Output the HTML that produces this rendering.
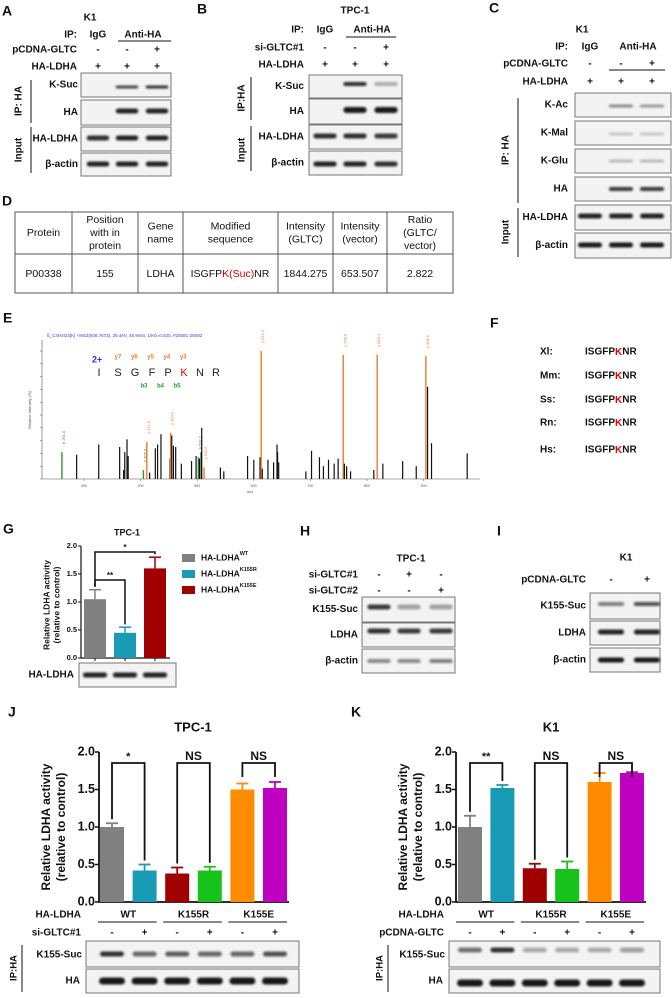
<!DOCTYPE html>
<html><head><meta charset="utf-8">
<style>
html,body{margin:0;padding:0;background:#fff;}
svg{display:block;font-family:"Liberation Sans",Arial,sans-serif;}
</style></head>
<body>
<svg id="fig" width="672" height="998" viewBox="0 0 672 998" xmlns="http://www.w3.org/2000/svg">
<defs><filter id="blur" x="-20%" y="-100%" width="140%" height="300%"><feGaussianBlur stdDeviation="1.1"/></filter></defs>
</svg>
<script>
// ---- chart data ----
const gCategories = ["HA-LDHA WT","HA-LDHA K155R","HA-LDHA K155E"];
const gValues = [1.05, 0.45, 1.6];
const gErrors = [0.17, 0.1, 0.2];
const gColors = ["#808080","#1a9bb5","#a00000"];
const yTicks = [0, 0.5, 1.0, 1.5, 2.0];
const yTickLabels = ["0.0","0.5","1.0","1.5","2.0"];
const jValues = [1.0, 0.42, 0.38, 0.42, 1.5, 1.52];
const jErrors = [0.05, 0.08, 0.08, 0.05, 0.08, 0.08];
const kValues = [1.0, 1.52, 0.45, 0.44, 1.6, 1.72];
const kErrors = [0.15, 0.04, 0.06, 0.1, 0.12, 0.01];
const barColors = ["#808080","#1a9bb5","#a00000","#17c21a","#ff8c00","#c000c0"];
const specMz = [261,287,326,363,370,372,376,378,405,411,416,426,430,436,452,453,455,458,462,472,490,498,502,504,507,508,512,541,547,589,600,611,613,615,625,635,641,642,644,692,702,716,723,732,742,749,758,760,764,771,812,818,828,863,887,904,907,914,977];
const specInt = [21,19,27,25,7,21,31,18,7,29,5,24,27,35,16,36,34,26,25,12,14,18,17,16,21,40,9,9,6,18,15,17,100,8,15,13,27,21,13,6,22,17,10,15,12,16,97,12,10,6,7,97,12,14,10,96,72,28,20];
const specColor = ["g","k","k","k","k","k","k","k","g","o","k","k","k","k","k","o","k","k","k","k","k","k","g","k","k","k","o","k","k","k","k","k","o","k","k","k","k","k","k","k","k","k","k","k","k","k","o","k","k","k","k","o","k","k","k","o","k","k","k"];
const specXTicks = [300,400,500,600,700,800,900];

const svg = document.getElementById('fig');
const NS = 'http://www.w3.org/2000/svg';
function mk(tag, attrs, name, parent){
  const el = document.createElementNS(NS, tag);
  for (const k in attrs) el.setAttribute(k, attrs[k]);
  
  
  (parent || svg).appendChild(el);
  return el;
}
function T(x,y,s,name,o){
  o = o || {};
  const el = mk('text',{x:x,y:y,'font-size':o.fs||10,'font-weight':o.fw||'bold','text-anchor':o.a||'start',fill:o.c||'#111','dominant-baseline':'middle'},name);
  if (o.rot) el.setAttribute('transform','rotate(-90 '+x+' '+y+')');
  el.textContent = s;
  return el;
}
function L(x1,y1,x2,y2,name,w,c){ return mk('line',{x1:x1,y1:y1,x2:x2,y2:y2,stroke:c||'#111','stroke-width':w||1},name); }
function box(x,y,w,h,name){ return mk('rect',{x:x,y:y,width:w,height:h,fill:'#f3f3f3',stroke:'#777','stroke-width':1},name); }
function band(cx,cy,w,h,op,name){ return mk('rect',{x:cx-w/2,y:cy-h/2,width:w,height:h,rx:h/2,fill:'#111',opacity:op,filter:'url(#blur)'},name); }
function blot(x,y,w,h,label,lanes,cy,ops,bh,name,lx){
  box(x,y,w,h,name+'-box');
  T(lx!==undefined?lx:x-3, y+h/2, label, name+'-label', {a:'end'});
  lanes.forEach((lx2,i)=>{ if(ops[i]>0) band(lx2,cy,w/lanes.length*0.75,bh,ops[i],name+'-band'); });
}

// ===== Panel A =====
T(2,12,'A','panel-a-label',{fs:14});
T(90,18,'K1','panel-a-cell',{fs:10,a:'middle'});
T(77,35,'IP:','panel-a-ip',{a:'end'});
T(98,35,'IgG','panel-a-igg',{a:'middle'});
T(143,35,'Anti-HA','panel-a-antiha',{a:'middle'});
L(118,41,171,41,'panel-a-underline');
T(77,50,'pCDNA-GLTC','panel-a-pcdna',{a:'end'});
T(77,67,'HA-LDHA','panel-a-haldha',{a:'end'});
const aL=[98,127,157];
['-','-','+'].forEach((s,i)=>T(aL[i],50,s,'panel-a-pcdna-sign',{a:'middle'}));
['+','+','+'].forEach((s,i)=>T(aL[i],67,s,'panel-a-haldha-sign',{a:'middle'}));
blot(81,73,90,24,'K-Suc',aL,87,[0,.75,.85],3,'panel-a-ksuc');
blot(81,100,90,25,'HA',aL,111,[0,.9,.9],5,'panel-a-ha');
blot(81,127,90,24,'HA-LDHA',aL,138,[.85,.9,.9],5,'panel-a-input-haldha');
blot(81,153,90,23,'β-actin',aL,164,[.9,.9,.9],5,'panel-a-actin');
L(31,80,31,123,'panel-a-ip-bracket');
T(19,101,'IP: HA','panel-a-ip-ha',{rot:1,a:'middle'});
L(31,127,31,173,'panel-a-input-bracket');
T(19,150,'Input','panel-a-input',{rot:1,a:'middle'});

// ===== Panel B =====
T(197,10,'B','panel-b-label',{fs:14});
T(355,11,'TPC-1','panel-b-cell',{a:'middle'});
T(304,30,'IP:','panel-b-ip',{a:'end'});
T(325,30,'IgG','panel-b-igg',{a:'middle'});
T(372,30,'Anti-HA','panel-b-antiha',{a:'middle'});
L(346,37,396,37,'panel-b-underline');
T(304,48,'si-GLTC#1','panel-b-si',{a:'end'});
T(304,65,'HA-LDHA','panel-b-haldha',{a:'end'});
const bL=[325,355,386];
['-','-','+'].forEach((s,i)=>T(bL[i],48,s,'panel-b-si-sign',{a:'middle'}));
['+','+','+'].forEach((s,i)=>T(bL[i],65,s,'panel-b-haldha-sign',{a:'middle'}));
blot(309,75,93,23,'K-Suc',bL,84,[0,.85,.3],4,'panel-b-ksuc',304);
blot(309,99,93,25,'HA',bL,110,[0,.95,.95],6,'panel-b-ha',304);
blot(309,125,93,24,'HA-LDHA',bL,136,[.85,.85,.8],5,'panel-b-input-haldha',304);
blot(309,151,93,24,'β-actin',bL,164,[.9,.9,.85],5,'panel-b-actin',304);
L(251,77,251,120,'panel-b-ip-bracket');
T(242,98,'IP:HA','panel-b-ip-ha',{rot:1,a:'middle'});
L(251,126,251,171,'panel-b-input-bracket');
T(242,150,'Input','panel-b-input',{rot:1,a:'middle'});

// ===== Panel C =====
T(489,9,'C','panel-c-label',{fs:14});
T(582,30,'K1','panel-c-cell',{a:'middle'});
T(568,47,'IP:','panel-c-ip',{a:'end'});
T(590,47,'IgG','panel-c-igg',{a:'middle'});
T(638,47,'Anti-HA','panel-c-antiha',{a:'middle'});
T(568,64,'pCDNA-GLTC','panel-c-pcdna',{a:'end'});
L(609,70,665,70,'panel-c-underline');
T(568,82,'HA-LDHA','panel-c-haldha',{a:'end'});
const cL=[590,621,652];
['-','-','+'].forEach((s,i)=>T(cL[i],64,s,'panel-c-pcdna-sign',{a:'middle'}));
['+','+','+'].forEach((s,i)=>T(cL[i],82,s,'panel-c-haldha-sign',{a:'middle'}));
blot(575,93,96,24,'K-Ac',cL,106,[0,.45,.4],3,'panel-c-kac',568);
blot(575,121,96,24,'K-Mal',cL,134,[0,.2,.2],3,'panel-c-kmal',568);
blot(575,149,96,24,'K-Glu',cL,161,[0,.25,.25],3,'panel-c-kglu',568);
blot(575,177,96,24,'HA',cL,189,[0,.8,.8],4,'panel-c-ha',568);
blot(575,205,96,25,'HA-LDHA',cL,216,[.9,.9,.9],5,'panel-c-input-haldha',568);
blot(575,233,96,25,'β-actin',cL,245,[.95,.95,.95],5,'panel-c-actin',568);
L(518,98,518,203,'panel-c-ip-bracket');
T(506,150,'IP: HA','panel-c-ip-ha',{rot:1,a:'middle'});
L(518,208,518,257,'panel-c-input-bracket');
T(506,232,'Input','panel-c-input',{rot:1,a:'middle'});

// ===== Panel D table =====
T(2,202,'D','panel-d-label',{fs:14});
mk('rect',{x:15,y:212,width:438,height:81,fill:'none',stroke:'#555','stroke-width':1},'table-border');
L(15,254,453,254,'table-header-line',1,'#555');
const cols=[15,72,138,183,278,333,387,453];
cols.slice(1,-1).forEach(x=>L(x,212,x,293,'table-column-line',1,'#555'));
const hdr=[['Protein'],['Position','with in','protein'],['Gene','name'],['Modified','sequence'],['Intensity','(GLTC)'],['Intensity','(vector)'],['Ratio','(GLTC/','vector)']];
hdr.forEach((lines,i)=>{const cx=(cols[i]+cols[i+1])/2;const y0=233-(lines.length-1)*6.5;lines.forEach((s,j)=>T(cx,y0+j*13,s,'table-header-cell',{fw:'normal',fs:10.5,a:'middle'}));});
const vals=['P00338','155','LDHA',null,'1844.275','653.507','2.822'];
vals.forEach((s,i)=>{if(s)T((cols[i]+cols[i+1])/2,274,s,'table-value-cell',{fw:'normal',fs:10.5,a:'middle'});});
{const el=mk('text',{x:230,y:274,'font-size':10.5,'text-anchor':'middle','dominant-baseline':'middle',fill:'#111'},'modified-sequence');
 el.innerHTML='ISGFP<tspan fill="#e00000">K(Suc)</tspan>NR';}

// ===== Panel E spectrum =====
T(3,319,'E','panel-e-label',{fs:14});
const sx0=42, sAxisY=479, sTop=351;
const mzX = mz => 84 + (mz-300)*0.566;
const intY = p => sAxisY - (sAxisY-sTop)*p/100;
T(47,336,'ß_C4H4O3[K] +MS2(509.7673), 28.4eV, 45.9min, 1/K0=0.820, #25081-25082','spectrum-title',{fs:4.5,fw:'normal',c:'#3344cc'});
L(sx0,340,sx0,sAxisY,'spectrum-y-axis',0.6,'#555');
L(sx0,sAxisY,480,sAxisY,'spectrum-x-axis',0.6,'#555');
for(let p=0;p<=100;p+=10){L(sx0-2,intY(p),sx0,intY(p),'spectrum-y-tick',0.5,'#555');}
specXTicks.forEach(m=>{L(mzX(m),sAxisY,mzX(m),sAxisY+2,'spectrum-x-tick',0.5,'#555');T(mzX(m),sAxisY+7,String(m),'spectrum-x-tick-label',{fs:3.5,fw:'normal',a:'middle',c:'#555'});});
T(250,492,'m/z','spectrum-x-title',{fs:4,fw:'normal',a:'middle',c:'#555'});
T(30,410,'Relative Intensity (%)','spectrum-y-title',{fs:4,fw:'normal',a:'middle',rot:1,c:'#555'});
const cmap={k:'#111',o:'#ee7a30',g:'#2a9a2a'};
specMz.forEach((m,i)=>{
  const c=specColor[i];
  L(mzX(m),sAxisY,mzX(m),intY(specInt[i]),'spectrum-peak',c==='k'?1.2:1.4,cmap[c]);
  if(c!=='k') T(mzX(m)+2,intY(specInt[i])-8,(c==='o'?'y':'b')+' '+m+'.'+(i%10),'peak-annotation',{fs:4,fw:'normal',c:cmap[c],rot:1});
});
T(92,360,'2+','charge-state',{fs:9,c:'#2233dd'});
const pep=['I','S','G','F','P','K','N','R'];
const pepX=[99,118,135,152,168,184,200,216];
pep.forEach((s,i)=>T(pepX[i],373,s,'peptide-residue',{fs:11,fw:'normal',a:'middle',c:i===5?'#e00000':'#222'}));
['y7','y6','y5','y4','y3'].forEach((s,i)=>T(118+i*16.3,357,s,'y-ion-label',{fs:6,c:'#ee7a30',a:'middle'}));
['b3','b4','b5'].forEach((s,i)=>T(144+i*16.5,386,s,'b-ion-label',{fs:6,c:'#2a9a2a',a:'middle'}));

// ===== Panel F =====
T(490,324,'F','panel-f-label',{fs:14});
const spp=['Xl:','Mm:','Ss:','Rn:','Hs:'], spY=[352,376,400,423,450];
spp.forEach((s,i)=>{T(540,spY[i],s,'species-label',{fs:10});
  const el=mk('text',{x:585,y:spY[i],'font-size':10,'font-weight':'bold','dominant-baseline':'middle',fill:'#111'},'species-sequence');
  el.innerHTML='ISGFP<tspan fill="#e00000">K</tspan>NR';});

// ===== Panel G bar chart =====
T(3,530,'G','panel-g-label',{fs:14});
T(127,533,'TPC-1','panel-g-title',{fs:9,a:'middle'});
const yG=v=>658-56*v; const gX=i=>95+i*30;
L(81,yG(2),81,yG(0),'g-y-axis',1.2);
L(81,yG(0),170,yG(0),'g-x-axis',1.2);
yTicks.forEach((v,i)=>{L(78,yG(v),81,yG(v),'g-y-tick',1);T(77,yG(v),yTickLabels[i],'g-y-tick-label',{fs:7.5,a:'end'});});
gValues.forEach((v,i)=>{
  mk('rect',{x:gX(i)-11,y:yG(v),width:22,height:yG(0)-yG(v),fill:gColors[i]},'g-bar-'+i);
  L(gX(i),yG(v),gX(i),yG(v+gErrors[i]),'g-error-bar',1.5,gColors[i]);
  L(gX(i)-6,yG(v+gErrors[i]),gX(i)+6,yG(v+gErrors[i]),'g-error-cap',1.5,gColors[i]);
  L(gX(i),yG(0),gX(i),yG(0)+3,'g-x-tick',1);
});
T(47,605,'Relative LDHA activity','g-y-title',{fs:8.5,a:'middle',rot:1});
T(57,605,'(relative to control)','g-y-title-2',{fs:8.5,a:'middle',rot:1});
function gbr(i,j,yb,lab,name){const a=gX(i),b=gX(j);
  mk('polyline',{points:a+','+yG(gValues[i]+gErrors[i]+0.05)+' '+a+','+yb+' '+b+','+yb+' '+b+','+yG(gValues[j]+gErrors[j]+0.05),fill:'none',stroke:'#111','stroke-width':1.5},name);
  T((a+b)/2,yb-4,lab,name+'-label',{fs:8,a:'middle'});}
gbr(0,2,552,'*','g-bracket-wt-k155e');
gbr(0,1,580,'**','g-bracket-wt-k155r');
const gLeg=['WT','K155R','K155E'];
gLeg.forEach((s,i)=>{mk('rect',{x:182,y:554+i*16,width:13,height:8,fill:gColors[i]},'g-legend-swatch');
  const el=mk('text',{x:201,y:558+i*16,'font-size':8.5,'font-weight':'bold','dominant-baseline':'middle',fill:'#111'},'g-legend-entry');
  el.innerHTML='HA-LDHA<tspan dy="-4" font-size="5.5">'+s+'</tspan>';});
blot(79,663,97,24,'HA-LDHA',[95,125,155],675,[.9,.9,.9],5,'g-blot',74);

// ===== Panel H =====
T(300,532,'H','panel-h-label',{fs:14});
T(411,559,'TPC-1','panel-h-cell',{a:'middle'});
const hL=[379,409,441];
T(358,575,'si-GLTC#1','panel-h-si1',{a:'end'});
T(358,591,'si-GLTC#2','panel-h-si2',{a:'end'});
['-','+','-'].forEach((s,i)=>T(hL[i],575,s,'panel-h-si1-sign',{a:'middle'}));
['-','-','+'].forEach((s,i)=>T(hL[i],591,s,'panel-h-si2-sign',{a:'middle'}));
blot(362,597,93,25,'K155-Suc',hL,607,[.8,.35,.35],5,'panel-h-k155suc',358);
blot(362,623,93,24,'LDHA',hL,631,[.85,.8,.8],5,'panel-h-ldha',358);
blot(362,649,93,24,'β-actin',hL,661,[.45,.45,.5],4,'panel-h-actin',358);

// ===== Panel I =====
T(497,532,'I','panel-i-label',{fs:14});
T(626,558,'K1','panel-i-cell',{a:'middle'});
const iL=[611,647];
T(586,580,'pCDNA-GLTC','panel-i-pcdna',{a:'end'});
T(611,580,'-','panel-i-sign',{a:'middle'});T(647,580,'+','panel-i-sign',{a:'middle'});
blot(590,593,70,26,'K155-Suc',iL,604,[.5,.7],4,'panel-i-k155suc',586);
blot(590,621,70,24,'LDHA',iL,632,[.9,.9],5,'panel-i-ldha',586);
blot(590,648,70,24,'β-actin',iL,660,[.95,.95],5,'panel-i-actin',586);

// ===== Panels J & K =====
const yJ=v=>902-75*v;
function bigChart(pref,axisX,xOf,values,errors,ops,title,titleX,letter,letterX,rowLabel,rowLx,blotX,blotW,sucY,haY,brX,labs){
  T(letterX,713,letter,pref+'-panel-label',{fs:14});
  T(titleX,728,title,pref+'-title',{fs:13,a:'middle'});
  L(axisX,yJ(2),axisX,yJ(0),pref+'-y-axis',1.8);
  L(axisX,yJ(0),xOf(5)+14,yJ(0),pref+'-x-axis',1.8);
  yTicks.forEach((v,i)=>{L(axisX-4,yJ(v),axisX,yJ(v),pref+'-y-tick',1.5);T(axisX-4,yJ(v),yTickLabels[i],pref+'-y-tick-label',{fs:12.5,a:'end'});});
  T(axisX-52,827,'Relative LDHA activity',pref+'-y-title',{fs:12,a:'middle',rot:1,fw:'bold'});
  T(axisX-37,827,'(relative to control)',pref+'-y-title-2',{fs:12,a:'middle',rot:1,fw:'bold'});
  values.forEach((v,i)=>{
    const c=barColors[i];
    mk('rect',{x:xOf(i)-12,y:yJ(v),width:24,height:yJ(0)-yJ(v),fill:c},pref+'-bar-'+i);
    L(xOf(i),yJ(v),xOf(i),yJ(v+errors[i]),pref+'-error-bar',1.8,c);
    L(xOf(i)-6,yJ(v+errors[i]),xOf(i)+6,yJ(v+errors[i]),pref+'-error-cap',1.8,c);
  });
  [0,2,4].forEach((i,k)=>{const a=xOf(i),b=xOf(i+1),yb=763;
    const ea=k===2?777:yJ(values[i]+errors[i])-4, eb=k===2?777:yJ(values[i+1]+errors[i+1])-4;
    mk('polyline',{points:a+','+ea+' '+a+','+yb+' '+b+','+yb+' '+b+','+eb,fill:'none',stroke:'#111','stroke-width':1.8},pref+'-bracket');
    T((a+b)/2,757,labs[k],pref+'-significance',{fs:labs[k]==='NS'?12:11,a:'middle'});});
  T(rowLx,915,'HA-LDHA',pref+'-haldha-label',{fs:10,a:'end'});
  ['WT','K155R','K155E'].forEach((s,g)=>{const a=xOf(2*g),b=xOf(2*g+1);
    T((a+b)/2,915,s,pref+'-group-label',{fs:10,a:'middle'});
    L(a-14,922,b+12,922,pref+'-group-underline',1);});
  T(rowLx,933,rowLabel,pref+'-treatment-label',{fs:10,a:'end'});
  values.forEach((v,i)=>T(xOf(i),933,i%2?'+':'-',pref+'-treatment-sign',{fs:10,a:'middle'}));
  const lanes=values.map((v,i)=>xOf(i));
  box(blotX,941,blotW,26,pref+'-k155suc-box');
  T(blotX-4,955,'K155-Suc',pref+'-k155suc-label',{fs:10,a:'end'});
  lanes.forEach((x,i)=>band(x,sucY,24,5,ops[i],pref+'-k155suc-band'));
  box(blotX,969,blotW,24,pref+'-ha-box');
  T(blotX-6,981,'HA',pref+'-ha-label',{fs:10,a:'end'});
  lanes.forEach((x,i)=>band(x,haY,26,7,.95,pref+'-ha-band'));
  L(brX,945,brX,992,pref+'-ip-bracket',1);
  T(brX-8,968,'IP:HA',pref+'-ip-ha',{fs:9.5,a:'middle',rot:1});
}
const xJ=i=>112+i*32.6, xK=i=>470+i*32.4;
bigChart('j',99,xJ,jValues,jErrors,[.85,.6,.65,.6,.6,.7],'TPC-1',193,'J',8,'si-GLTC#1',81,86,213,954,981,22,['*','NS','NS']);
bigChart('k',456,xK,kValues,kErrors,[.55,.85,.3,.3,.3,.35],'K1',551,'K',351,'pCDNA-GLTC',444,449,211,950,983,388,['**','NS','NS']);
</script>
</body></html>
